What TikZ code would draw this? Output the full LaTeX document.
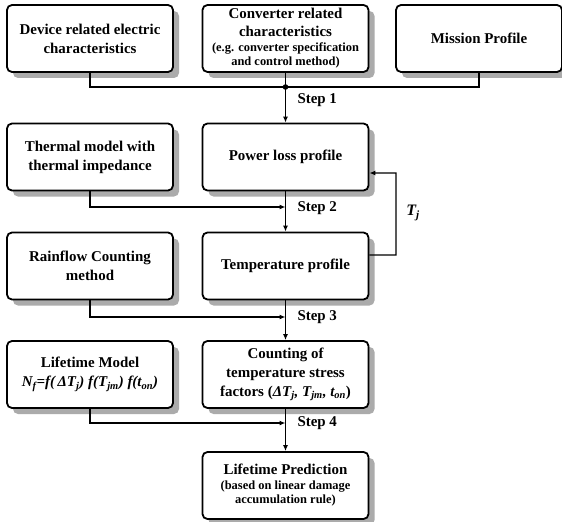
\documentclass[tikz,border=0pt]{standalone}
\usepackage{fontspec}
\setmainfont{Liberation Serif}
\usetikzlibrary{arrows.meta,shadows,calc}

\tikzset{
  blk/.style={draw,line width=1.8pt,rounded corners=5pt,fill=white,
    minimum width=166bp,minimum height=67bp,align=center,inner sep=2pt,
    font=\fontsize{15}{19}\selectfont\bfseries,
    drop shadow={shadow xshift=6bp,shadow yshift=-6bp,fill=black!33,opacity=1}},
  wire/.style={line width=1.4pt},
  arr/.style={wire,-{Latex[length=6pt,width=5pt]}},
  lbl/.style={font=\fontsize{15}{18}\selectfont\bfseries,anchor=west},
}
\newcommand{\smalltxt}{\fontsize{12.5}{14}\selectfont}

\begin{document}
\begin{tikzpicture}[x=1bp,y=-1bp]
  \useasboundingbox (0,0) rectangle (562,522);

  % top row
  \node[blk] (dev)  at (90,38.5)    {Device related electric\\characteristics};
  \node[blk] (conv) at (285.5,38.5) {Converter related\\[-1pt]characteristics\\[-4pt]{\smalltxt(e.g. converter specification}\\[-5pt]{\smalltxt and control method)}};
  \node[blk] (mis)  at (479,38.5)   {Mission Profile};

  % middle rows
  \node[blk] (thm)   at (90,157)    {Thermal model with\\thermal impedance};
  \node[blk] (ploss) at (285.5,157) {Power loss profile};
  \node[blk] (rain)  at (90,266)    {Rainflow Counting\\method};
  \node[blk] (temp)  at (285.5,266) {Temperature profile};
  \node[blk] (life)  at (90,374.5)  {Lifetime Model\\\textit{N\textsubscript{f}=f(\,ΔT\textsubscript{j}) f(T\textsubscript{jm}) f(t\textsubscript{on})}};
  \node[blk] (count) at (285.5,374.5) {Counting of\\temperature stress\\factors (\textit{ΔT\textsubscript{j}, T\textsubscript{jm}, t\textsubscript{on}})};
  \node[blk] (pred)  at (285.5,485.5) {Lifetime Prediction\\[-4pt]{\smalltxt(based on linear damage}\\[-5pt]{\smalltxt accumulation rule)}};

  % junction points
  \coordinate (j1) at (285.5,87);
  \coordinate (j2) at (285.5,207);
  \coordinate (j3) at (285.5,317);
  \coordinate (j4) at (285.5,423);

  % step 1
  \draw[wire] (dev.south) |- (j1) -| (mis.south);
  \fill (j1) circle (2.8);
  \draw[arr] (conv.south) -- (ploss.north);
  \node[lbl] (s1) at (294,100) {Step 1};

  % step 2
  \draw[arr] (thm.south) |- (j2);
  \draw[arr] (ploss.south) -- (temp.north);
  \node[lbl] (s2) at (294,208) {Step 2};

  % feedback of junction temperature
  \draw[arr] ([yshift=11bp]temp.east) -| (396,173) -- ([yshift=-16bp]ploss.east);
  \node[font=\fontsize{16}{18}\selectfont\bfseries\itshape] (tj) at (413,213) {T\textsubscript{j}};

  % step 3
  \draw[arr] (rain.south) |- (j3);
  \draw[arr] (temp.south) -- (count.north);
  \node[lbl] (s3) at (294,317) {Step 3};

  % step 4
  \draw[arr] (life.south) |- (j4);
  \draw[arr] (count.south) -- (pred.north);
  \node[lbl] (s4) at (294,423) {Step 4};
\end{tikzpicture}
\end{document}
